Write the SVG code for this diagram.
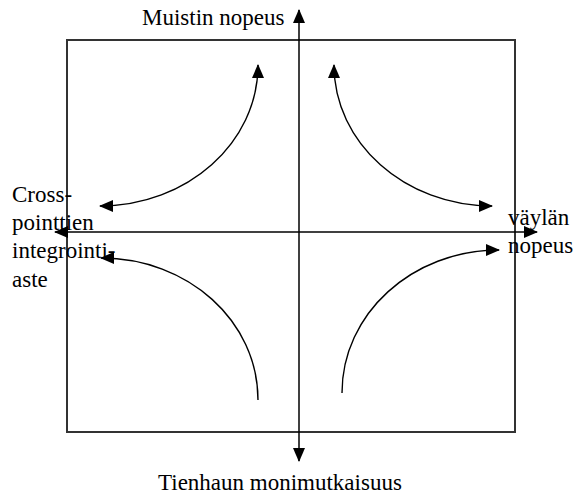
<svg xmlns="http://www.w3.org/2000/svg" width="578" height="495" viewBox="0 0 578 495">
<style>
.frame{fill:none;stroke:#333;stroke-width:2}
.axis{fill:none;stroke:#000;stroke-width:1.5}
.curve{fill:none;stroke:#000;stroke-width:1.4}
text{font-family:'Liberation Serif','Times New Roman','DejaVu Serif',serif;font-size:23px;fill:#000}
</style>
<defs>
<marker id="ah" markerUnits="userSpaceOnUse" markerWidth="14" markerHeight="12" refX="13" refY="6" orient="auto-start-reverse" viewBox="0 0 14 12">
<path d="M0,0 L14,6 L0,12 z" fill="#000"/>
</marker>
</defs>
<g id="frame"><rect class="frame" x="67" y="40" width="448" height="392"/></g>
<g id="connectors">
<path class="axis" d="M55,232 L537,232" marker-start="url(#ah)" marker-end="url(#ah)"/>
<path class="axis" d="M299,10 L299,461" marker-start="url(#ah)" marker-end="url(#ah)"/>
<path class="curve" d="M100,206 C187,206 258,143 258,65" marker-start="url(#ah)" marker-end="url(#ah)"/>
<path class="curve" d="M334,65 C334,143 405,206 492,206" marker-start="url(#ah)" marker-end="url(#ah)"/>
<path class="curve" d="M342,393 C342,314 412,250 499,250" marker-end="url(#ah)"/>
<path class="curve" d="M258,400 C258,321 188,258 101,258" marker-end="url(#ah)"/>
</g>
<g id="label-top"><text font-family="Liberation Serif, serif" x="142" y="25">Muistin nopeus</text></g>
<g id="label-bottom"><text font-family="Liberation Serif, serif" x="158" y="490">Tienhaun monimutkaisuus</text></g>
<g id="label-left" font-family="Liberation Serif, serif"><text x="12" y="202">Cross-</text><text x="12" y="230">pointtien</text><text x="12" y="258">integrointi-</text><text x="12" y="287">aste</text></g>
<g id="label-right"><text x="508" y="225">väylän</text><text x="508" y="253">nopeus</text></g>
</svg>
